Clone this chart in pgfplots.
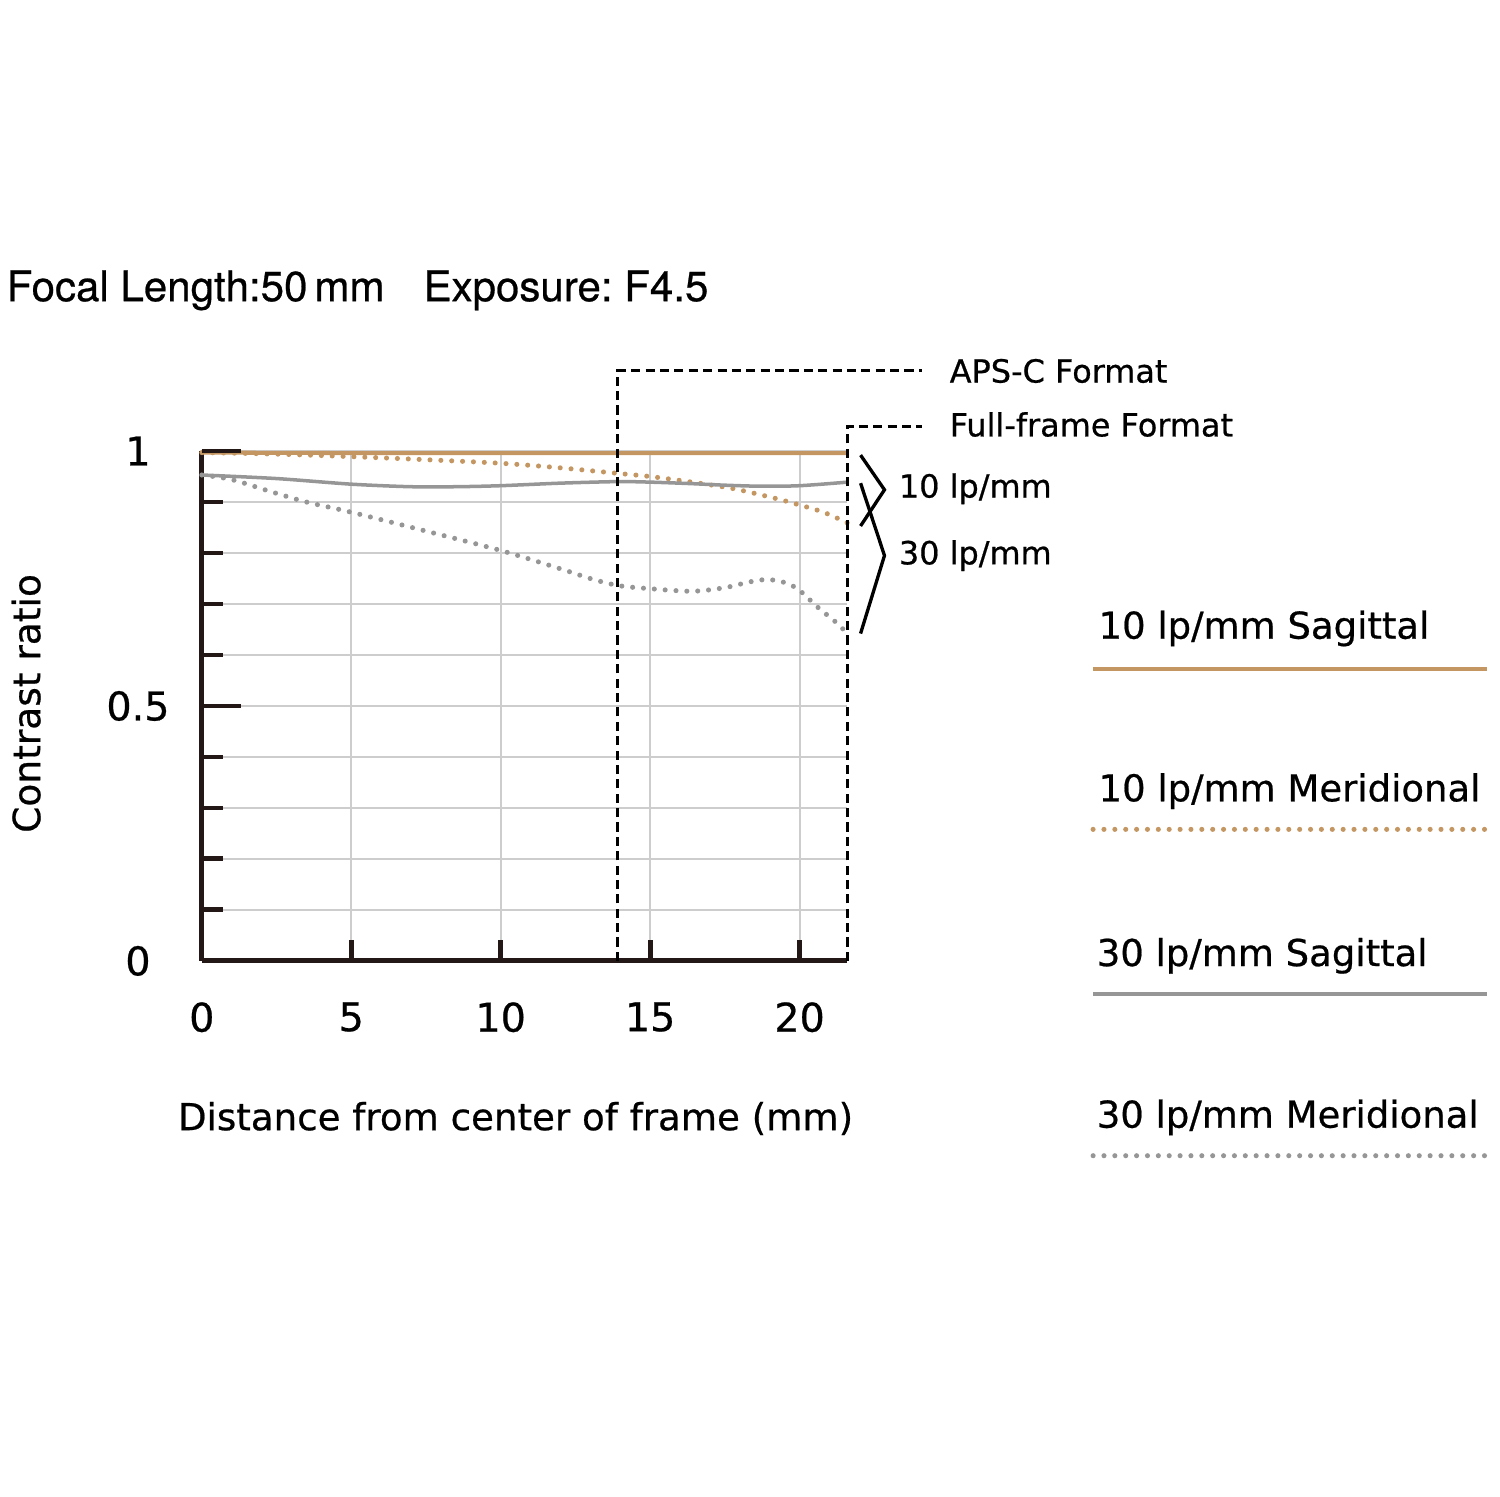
\documentclass[border=0pt]{standalone}
\usepackage{pgfplots}
\pgfplotsset{compat=1.18}
\usepackage{fontspec}
\setmainfont{DejaVu Sans}[FakeBold=0.6]
\newfontfamily\heros{TeX Gyre Heros}[FakeBold=0.6]
\frenchspacing
\definecolor{axisdark}{RGB}{35,24,21}
\definecolor{mtforange}{RGB}{196,150,98}
\definecolor{mtfgray}{RGB}{150,150,150}
\definecolor{gridgray}{RGB}{205,205,205}
\tikzset{mtfdot/.style={line width=1.45pt, line cap=round, dash pattern=on 0pt off 3.1pt},
  smalltxt/.style={anchor=west, inner sep=0pt, font=\fontsize{9.1}{11}\selectfont},
  legtxt/.style={anchor=west, inner sep=0pt, font=\fontsize{10.55}{12.6}\selectfont}}
\begin{document}
\begin{tikzpicture}
\begin{axis}[
  at={(0,0)}, anchor=south west,
  scale only axis, width=6.47cm, height=5.11cm,
  xmin=0, xmax=21.6, ymin=0, ymax=1,
  enlargelimits=false, clip=false,
  axis lines=left,
  axis line style={line width=1.4pt, color=axisdark, -},
  xtick={0,5,10,15,20},
  ytick={0,0.1,0.2,0.3,0.4,0.5,0.6,0.7,0.8,0.9,1},
  yticklabels={0,,,,,0.5,,,,,1},
  tick align=inside,
  major tick length=0.21cm,
  tick style={line width=1.4pt, color=axisdark},
  grid=major,
  grid style={line width=0.6pt, color=gridgray},
  /pgf/number format/assume math mode=true,
  every tick label/.append style={font=\fontsize{11.3}{13}\selectfont, text=black},
  xticklabel style={yshift=-0.29cm},
  yticklabel style={anchor=center, xshift=-0.64cm},
  xlabel={Distance from center of frame (mm)},
  ylabel={Contrast ratio},
  every axis x label/.style={at={(axis description cs:0.486,-0.309)}, anchor=center, font=\fontsize{10.6}{12.6}\selectfont},
  every axis y label/.style={at={(axis description cs:-0.272,0.505)}, rotate=90, anchor=center, font=\fontsize{10.7}{12.6}\selectfont},
]
% 10 lp/mm Sagittal
\addplot[mtforange, line width=1.15pt, smooth] coordinates {
  (0,0.997) (5,0.996) (10,0.996) (15,0.996) (21.6,0.996)};
% 10 lp/mm Meridional
\addplot[mtforange, mtfdot, smooth] coordinates {
  (0,0.997) (2.5,0.994) (5,0.989) (7.5,0.983) (10,0.976) (12,0.967)
  (13.95,0.956) (15,0.950) (16.4,0.939) (17.8,0.926) (19.2,0.907)
  (19.95,0.895) (20.8,0.880) (21.6,0.859)};
% 30 lp/mm Sagittal
\addplot[mtfgray, line width=1.0pt, smooth] coordinates {
  (0,0.953) (2.5,0.946) (5,0.935) (7,0.930) (8.5,0.930) (10,0.932)
  (12,0.937) (13.9,0.940) (15,0.939) (16.4,0.936) (17.5,0.933)
  (18.7,0.931) (20,0.932) (21.6,0.939)};
% 30 lp/mm Meridional
\addplot[mtfgray, mtfdot, smooth] coordinates {
  (0,0.953) (1,0.944) (2.33,0.920) (3.5,0.900) (5,0.880) (7.5,0.843)
  (10,0.805) (12,0.769) (13.05,0.749) (13.95,0.736) (15,0.730)
  (16.4,0.725) (17.5,0.732) (18.3,0.743) (18.9,0.748) (19.45,0.743)
  (19.95,0.729) (20.6,0.694) (21.2,0.665) (21.6,0.642)};
% long ticks
\draw[line width=1.4pt, axisdark] (axis cs:0,0.5) -- ++(0.39cm,0);
\draw[line width=1.4pt, axisdark] (axis cs:0,1) -- ++(0.39cm,0);
% format frames
\draw[line width=0.85pt, dash pattern=on 2.6pt off 1.5pt]
  (axis cs:13.9,0) -- (axis cs:13.9,1.157) -- (axis cs:24.1,1.157);
\draw[line width=0.85pt, dash pattern=on 2.6pt off 1.5pt]
  (axis cs:21.6,0) -- (axis cs:21.6,1.049) -- (axis cs:24.1,1.049);
\node[smalltxt] at (axis cs:25.0,1.157) {APS-C Format};
\node[smalltxt] at (axis cs:25.0,1.052) {Full-frame Format};
% braces
\draw[line width=0.95pt] (axis cs:22.04,0.992) -- (axis cs:22.84,0.924) -- (axis cs:22.04,0.853);
\draw[line width=0.95pt] (axis cs:22.04,0.937) -- (axis cs:22.84,0.795) -- (axis cs:22.04,0.642);
\node[smalltxt] at (axis cs:23.3,0.926) {10 lp/mm};
\node[smalltxt] at (axis cs:23.3,0.795) {30 lp/mm};
% title
\node[anchor=west, inner sep=0pt, font=\heros\fontsize{12}{14}\selectfont] at (axis cs:-6.55,1.315)
  {Focal Length:50\,mm\hspace{0.39cm}Exposure: F4.5};
% legend
\node[legtxt] at (axis cs:29.98,0.652) {10 lp/mm Sagittal};
\draw[mtforange, line width=1.2pt] (axis cs:29.82,0.573) -- (axis cs:43.0,0.573);
\node[legtxt] at (axis cs:29.98,0.333) {10 lp/mm Meridional};
\draw[mtforange, mtfdot] (axis cs:29.82,0.258) -- (axis cs:43.0,0.258);
\node[legtxt] at (axis cs:29.92,0.010) {30 lp/mm Sagittal};
\draw[mtfgray, line width=1.2pt] (axis cs:29.82,-0.065) -- (axis cs:43.0,-0.065);
\node[legtxt] at (axis cs:29.92,-0.307) {30 lp/mm Meridional};
\draw[mtfgray, mtfdot] (axis cs:29.82,-0.382) -- (axis cs:43.0,-0.382);
\end{axis}
\path[use as bounding box] (-1.99,-5.37) rectangle (13.01,9.63);
\end{tikzpicture}
\end{document}
